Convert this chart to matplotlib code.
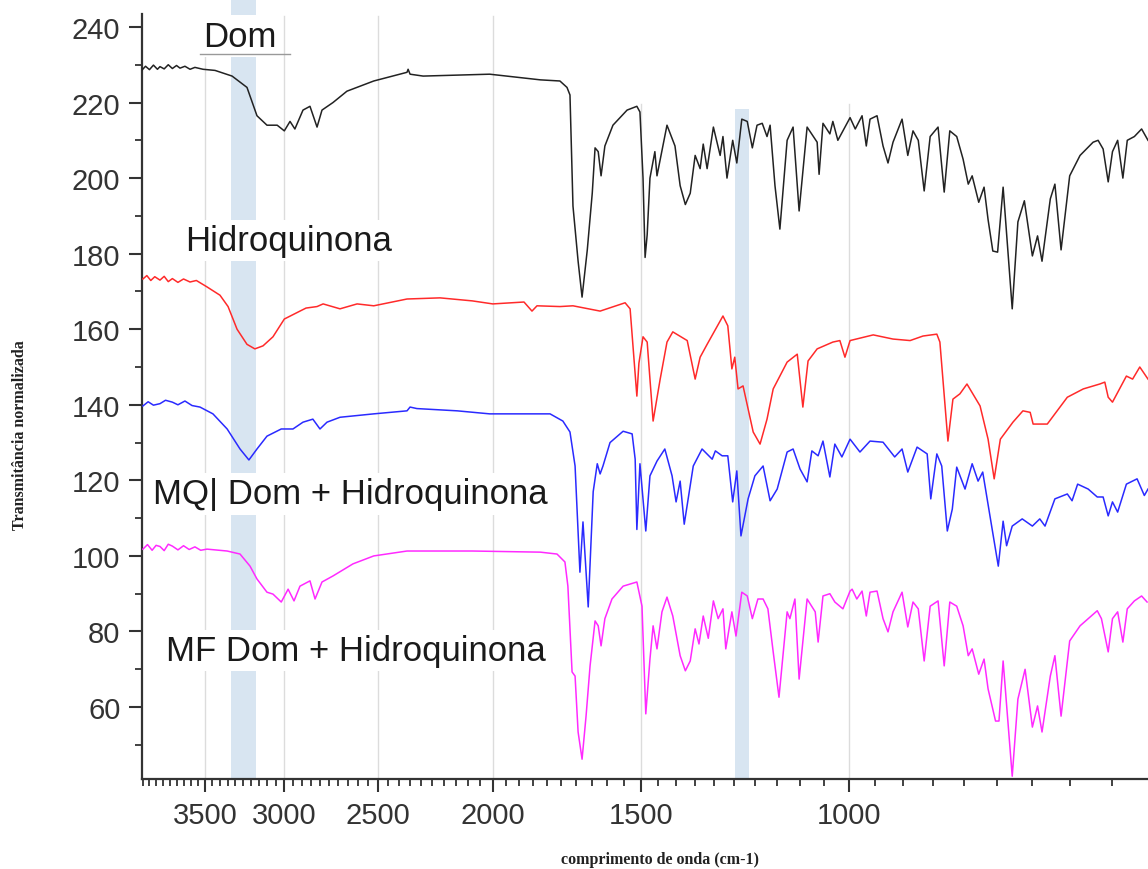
import numpy as np
import matplotlib
matplotlib.use("Agg")
import matplotlib.pyplot as plt
from matplotlib.ticker import FixedLocator, FixedFormatter, NullFormatter

# FTIR spectra (wavenumber cm-1, transmittance)
dom_wn = [3957, 3930, 3900, 3870, 3840, 3821, 3790, 3760, 3730, 3700, 3675, 3640, 3604, 3570,
          3514, 3433, 3321, 3226, 3164, 3103, 3042, 3000, 2967, 2939, 2893, 2854, 2815, 2788,
          2729, 2656, 2521, 2363, 2358, 2349, 2290, 2012, 1823, 1755, 1731, 1721, 1711, 1694,
          1681, 1664, 1648, 1639, 1629, 1620, 1608, 1583, 1540, 1511, 1502, 1493, 1487, 1481,
          1473, 1459, 1453, 1425, 1403, 1389, 1375, 1362, 1349, 1336, 1328, 1318, 1302, 1285,
          1278, 1268, 1254, 1244, 1232, 1219, 1207, 1196, 1184, 1173, 1166, 1155, 1144, 1128,
          1115, 1102, 1085, 1064, 1060, 1052, 1038, 1032, 1022, 998, 988, 975, 967, 960, 947,
          936, 927, 918, 902, 892, 883, 874, 864, 854, 841, 831, 822, 811, 801, 793, 787, 777,
          769, 763, 756, 749, 741, 728, 720, 711, 700, 693, 687, 676, 670, 662, 651, 638, 622,
          616, 610, 604, 599, 593, 587, 582, 574, 566, 559]
dom_t = [228.6, 229.6, 228.7, 229.9, 228.8, 229.5, 228.9, 230.0, 229.0, 229.8, 229.1, 229.6, 228.8,
         229.3, 228.8, 228.5, 227.0, 224.0, 216.5, 214.0, 214.0, 212.5, 215.0, 213.0, 218.0, 219.0,
         213.5, 218.0, 220.0, 223.0, 225.7, 228.0, 228.8, 227.5, 227.0, 227.5, 226.0, 225.7, 224.0,
         222.0, 192.6, 178.0, 168.5, 181.0, 196.0, 208.0, 207.0, 200.6, 208.5, 214.0, 218.0, 219.0,
         217.5, 200.0, 179.0, 185.0, 200.0, 207.0, 200.6, 214.0, 208.5, 198.0, 193.0, 196.0, 206.0,
         202.5, 209.0, 202.5, 213.5, 206.0, 211.0, 200.0, 210.0, 204.0, 215.6, 215.0, 208.0, 214.0,
         214.5, 211.0, 214.0, 198.0, 186.5, 210.0, 213.5, 191.3, 213.5, 209.5, 201.0, 214.5, 211.7,
         215.0, 210.0, 216.0, 213.0, 216.5, 208.5, 215.6, 216.5, 208.5, 204.0, 209.5, 215.6, 206.0,
         212.5, 210.0, 196.6, 211.0, 213.5, 196.3, 212.5, 211.0, 205.0, 198.4, 200.6, 193.6, 197.6,
         189.0, 180.7, 180.4, 197.6, 165.4, 188.4, 194.0, 179.4, 184.7, 178.0, 194.5, 198.4, 181.0,
         200.6, 206.0, 209.5, 210.0, 207.7, 199.0, 207.0, 210.0, 200.0, 210.0, 211.0, 213.0, 210.0]

hq_wn = [3950, 3920, 3890, 3860, 3821, 3790, 3760, 3730, 3690, 3650, 3604, 3560, 3487, 3400,
         3347, 3289, 3226, 3177, 3127, 3067, 3000, 2910, 2876, 2815, 2782, 2692, 2604, 2521,
         2363, 2216, 2081, 2000, 1882, 1853, 1835, 1755, 1711, 1623, 1546, 1531, 1511, 1505,
         1493, 1481, 1464, 1444, 1425, 1409, 1370, 1349, 1336, 1318, 1278, 1266, 1256, 1249,
         1241, 1229, 1205, 1189, 1173, 1159, 1128, 1106, 1094, 1083, 1064, 1032, 1018, 1008,
         998, 954, 918, 888, 866, 843, 838, 825, 817, 806, 795, 775, 763, 754, 745, 727, 713,
         703, 699, 680, 654, 634, 614, 608, 604, 599, 583, 576, 568, 559]
hq_t = [173.3, 174.2, 172.9, 173.9, 173.0, 174.0, 172.6, 173.4, 172.4, 173.3, 172.5, 172.9, 171.2,
        169.0, 166.0, 160.0, 156.0, 154.8, 155.6, 158.0, 162.7, 164.8, 165.6, 166.0, 166.7, 165.4,
        166.7, 166.2, 168.0, 168.3, 167.5, 166.7, 167.2, 164.8, 166.2, 166.0, 166.2, 164.8, 167.0,
        165.4, 142.3, 151.0, 158.0, 156.6, 135.7, 146.8, 156.6, 159.3, 157.0, 146.8, 152.6, 156.0,
        163.5, 160.9, 149.5, 152.6, 144.2, 145.0, 132.8, 129.6, 136.2, 144.2, 151.3, 153.4, 139.4,
        151.6, 154.8, 156.6, 157.0, 152.6, 157.0, 158.5, 157.4, 157.0, 158.2, 158.7, 156.6, 130.4,
        141.5, 142.9, 145.5, 139.7, 130.9, 120.4, 130.9, 135.4, 138.4, 138.0, 134.9, 134.9, 142.0,
        144.2, 145.5, 146.0, 142.0, 140.7, 147.6, 146.8, 150.0, 146.8]

mq_wn = [3950, 3910, 3870, 3821, 3780, 3730, 3690, 3640, 3590, 3535, 3447, 3353, 3270, 3214,
         3164, 3103, 3018, 2950, 2893, 2838, 2799, 2761, 2692, 2521, 2363, 2349, 2318, 2143,
         2012, 1882, 1789, 1745, 1721, 1704, 1688, 1678, 1661, 1645, 1632, 1623, 1614, 1592,
         1552, 1525, 1516, 1511, 1502, 1485, 1473, 1453, 1431, 1411, 1400, 1389, 1378, 1354,
         1331, 1305, 1297, 1280, 1266, 1254, 1244, 1234, 1217, 1201, 1182, 1166, 1150, 1128,
         1115, 1100, 1085, 1075, 1062, 1052, 1038, 1028, 1014, 998, 979, 960, 936, 915, 902,
         892, 876, 859, 853, 843, 835, 826, 818, 811, 798, 787, 778, 771, 757, 748, 741, 736,
         728, 714, 700, 690, 683, 670, 654, 648, 641, 628, 617, 610, 604, 599, 593, 583, 571,
         563, 559]
mq_t = [139.7, 140.8, 139.9, 140.3, 141.2, 140.7, 140.0, 141.0, 139.8, 139.4, 137.6, 133.6, 128.3,
        125.4, 128.3, 131.7, 133.6, 133.6, 135.4, 136.2, 133.6, 135.4, 136.7, 137.6, 138.4, 139.4,
        139.0, 138.4, 137.6, 137.6, 137.6, 135.7, 132.8, 123.8, 95.7, 109.0, 86.5, 117.0, 124.4,
        121.7, 123.8, 130.0, 133.0, 132.3, 125.6, 107.0, 124.4, 106.6, 121.2, 125.1, 128.3, 121.2,
        114.3, 119.8, 108.4, 123.8, 128.3, 125.6, 127.8, 126.5, 126.5, 114.3, 122.5, 105.3, 115.1,
        121.2, 123.8, 114.6, 117.7, 127.5, 128.3, 123.0, 119.6, 127.8, 126.5, 130.4, 120.9, 129.6,
        126.2, 130.9, 127.5, 130.4, 130.1, 126.2, 128.3, 122.2, 128.8, 127.0, 115.1, 127.0, 123.8,
        106.6, 112.4, 123.5, 117.7, 124.4, 119.8, 122.2, 107.1, 97.3, 109.2, 102.7, 107.9, 109.8,
        107.9, 109.8, 107.9, 115.1, 116.4, 114.6, 119.0, 117.7, 115.6, 115.6, 110.6, 114.3, 111.6,
        119.0, 120.4, 116.0, 117.7]

mf_wn = [3950, 3915, 3880, 3850, 3821, 3790, 3760, 3730, 3690, 3650, 3610, 3570, 3530, 3487,
         3353, 3270, 3207, 3164, 3103, 3067, 3018, 2978, 2944, 2910, 2854, 2826, 2788, 2729,
         2625, 2521, 2363, 2081, 1823, 1765, 1738, 1728, 1714, 1704, 1694, 1681, 1668, 1655,
         1639, 1629, 1620, 1608, 1586, 1552, 1511, 1496, 1485, 1473, 1464, 1453, 1439, 1425,
         1409, 1389, 1375, 1362, 1349, 1339, 1328, 1315, 1302, 1290, 1278, 1271, 1256, 1246,
         1232, 1219, 1207, 1194, 1182, 1171, 1159, 1146, 1128, 1122, 1111, 1102, 1085, 1068,
         1062, 1052, 1038, 1028, 1012, 998, 994, 985, 975, 967, 960, 947, 936, 927, 918, 902,
         892, 883, 874, 864, 854, 841, 831, 822, 811, 801, 793, 787, 777, 769, 763, 752, 747,
         741, 728, 720, 710, 700, 693, 687, 676, 670, 662, 651, 638, 617, 612, 604, 599, 593,
         587, 582, 574, 566, 560]
mf_t = [101.8, 103.0, 101.5, 102.8, 102.5, 101.4, 103.1, 102.6, 101.6, 102.7, 101.7, 102.4, 101.5,
        101.8, 101.3, 100.5, 97.3, 93.9, 90.4, 89.9, 87.8, 91.2, 88.1, 92.0, 93.4, 88.6, 93.1,
        94.7, 97.9, 100.0, 101.3, 101.3, 101.0, 100.5, 98.4, 92.0, 69.3, 68.2, 53.4, 46.2, 57.6,
        70.9, 82.8, 81.5, 76.2, 83.4, 88.6, 92.0, 93.1, 86.7, 58.2, 72.7, 81.5, 75.4, 85.2, 89.1,
        84.1, 73.6, 69.6, 72.2, 80.7, 76.7, 84.1, 78.2, 88.1, 83.4, 86.0, 75.4, 85.2, 78.8, 90.4,
        89.4, 83.4, 88.6, 88.6, 86.0, 74.6, 62.6, 85.2, 83.4, 88.6, 67.4, 88.6, 85.2, 77.2, 89.4,
        90.0, 87.8, 86.0, 90.7, 91.2, 88.6, 90.7, 84.1, 90.4, 90.7, 83.4, 79.9, 85.2, 90.4, 81.2,
        87.8, 86.0, 72.2, 86.7, 88.1, 70.9, 87.8, 86.7, 81.5, 73.6, 75.4, 68.7, 72.7, 64.8, 56.3,
        56.3, 72.2, 41.7, 62.1, 70.0, 54.7, 60.3, 53.4, 68.2, 73.6, 57.6, 77.5, 81.5, 85.5, 83.4,
        74.6, 83.4, 85.2, 77.2, 86.0, 88.1, 89.4, 87.8]

major_ticks = [3500, 3000, 2500, 2000, 1500, 1000]
minor_ticks = list(range(600, 3951, 50))
bands = [(3330, 3170), (1248, 1215)]

fig = plt.figure(figsize=(11.48, 8.70), dpi=100)
ax = fig.add_axes([0.1237, 0.1034, 0.8763, 0.8966])

ax.set_xscale('log')
ax.set_xlim(3957, 559)
ax.set_ylim(40.95, 247.4)

# grid lines and highlighted bands
grid_c = '#dcdcdc'
for t in major_ticks:
    top = 242.9 if t in (2500, 2000, 3500, 3000) else 219.6
    ax.plot([t, t], [40.95, top], color=grid_c, lw=1.0, zorder=0)
ax.axvspan(bands[0][0], bands[0][1], color='#d8e5f1', lw=0, zorder=0.5)
ax.axvspan(bands[1][0], bands[1][1], ymax=(218.3 - 40.95) / (247.4 - 40.95),
           color='#d8e5f1', lw=0, zorder=0.5)

style = dict(lw=1.1, zorder=3, solid_joinstyle='round')
ax.plot(dom_wn, dom_t, color='#222222', **style)
ax.plot(hq_wn, hq_t, color='#ff2a2a', **style)
ax.plot(mq_wn, mq_t, color='#2a2aff', **style)
ax.plot(mf_wn, mf_t, color='#ff2aff', **style)

# labels of each spectrum (white boxes hide the bands behind them)
lab = dict(fontsize=25, family=['Liberation Sans', 'DejaVu Sans'], color='#1a1a1a',
           ha='center', va='center', zorder=4)
box = dict(facecolor='white', edgecolor='none', pad=3)
ax.text(3270, 237.6, 'Dom', bbox=box, **lab)
ax.plot([3535, 2967], [232.9, 232.9], color='#999999', lw=1.0, zorder=5)
ax.text(2973, 183.4, 'Hidroquinona', bbox=box, **lab)
ax.text(2640, 116.4, 'MQ| Dom + Hidroquinona', bbox=box, **lab)
ax.text(2610, 75.0, 'MF Dom + Hidroquinona', bbox=box, **lab)

# axes styling
for s in ['top', 'right']:
    ax.spines[s].set_visible(False)
for s in ['left', 'bottom']:
    ax.spines[s].set_linewidth(1.6)
    ax.spines[s].set_color('#333333')
ax.spines['left'].set_bounds(40.95, 243.4)

ax.xaxis.set_major_locator(FixedLocator(major_ticks))
ax.xaxis.set_major_formatter(FixedFormatter([str(t) for t in major_ticks]))
ax.xaxis.set_minor_locator(FixedLocator(minor_ticks))
ax.xaxis.set_minor_formatter(NullFormatter())
ax.set_yticks(range(60, 241, 20))
ax.set_yticks(range(50, 241, 10), minor=True)

ax.tick_params(which='major', direction='out', length=9.5, width=1.5, color='#333333',
               labelsize=21, labelcolor='#333333', pad=6)
ax.tick_params(which='minor', direction='out', length=5, width=1.3, color='#333333')
for lbl in ax.get_xticklabels() + ax.get_yticklabels():
    lbl.set_family(['Liberation Sans', 'DejaVu Sans'])

ax.text(-0.121, 0.442, 'Transmitância normalizada', transform=ax.transAxes, rotation=90,
        fontsize=11.5, fontweight='bold', family=['Liberation Serif', 'DejaVu Serif'],
        color='#222222', ha='center', va='center')
ax.text(0.515, -0.1026, 'comprimento de onda (cm-1)', transform=ax.transAxes,
        fontsize=11.5, fontweight='bold', family=['Liberation Serif', 'DejaVu Serif'],
        color='#222222', ha='center', va='center')

fig.savefig('out.png', dpi=100)
